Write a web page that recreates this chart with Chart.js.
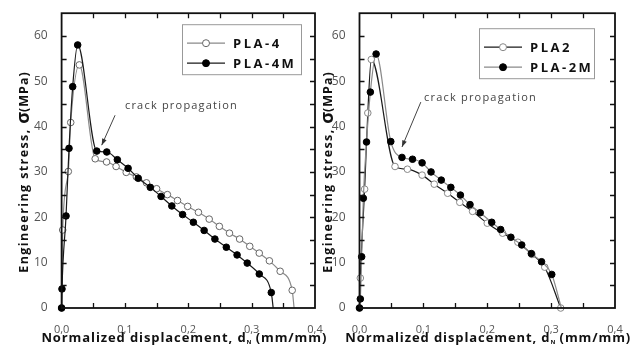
<!DOCTYPE html>
<html>
<head>
<meta charset="utf-8">
<script src="https://cdn.jsdelivr.net/npm/chart.js@4.4.0/dist/chart.umd.min.js"></script>
<style>
  html, body { margin: 0; padding: 0; background: #fff; }
  .wrap { position: relative; width: 636px; height: 347px; overflow: hidden; }
  .panel { position: absolute; top: 0; height: 347px; }
</style>
</head>
<body>
<div class="wrap">
  <div class="panel" style="left:0; width:330px"><canvas id="chart-pla4" width="330" height="347"></canvas></div>
  <div class="panel" style="left:310px; width:326px"><canvas id="chart-pla2" width="326" height="347"></canvas></div>
</div>
<script>
// left panel: PLA-4 (open) and PLA-4M (filled)
const pla4X = [0, 0.0017, 0.0106, 0.0144, 0.028, 0.053, 0.071, 0.086, 0.102, 0.118, 0.134, 0.150, 0.167, 0.183, 0.199, 0.216, 0.233, 0.249, 0.265, 0.281, 0.297, 0.312, 0.328, 0.345, 0.364, 0.367]
const pla4Y = [0, 17.2, 30.1, 40.9, 53.6, 32.9, 32.2, 31.2, 29.9, 28.9, 27.6, 26.3, 25.0, 23.7, 22.4, 21.1, 19.6, 18.0, 16.5, 15.2, 13.6, 12.1, 10.4, 8.1, 3.9, 0]
const pla4mX = [0, 0.0006, 0.007, 0.0117, 0.0175, 0.0254, 0.0555, 0.0713, 0.088, 0.105, 0.121, 0.140, 0.157, 0.174, 0.191, 0.208, 0.225, 0.242, 0.260, 0.277, 0.293, 0.312, 0.331, 0.334]
const pla4mY = [0, 4.2, 20.3, 35.2, 48.8, 58.0, 34.6, 34.4, 32.7, 30.8, 28.6, 26.6, 24.6, 22.5, 20.6, 18.9, 17.1, 15.2, 13.4, 11.7, 9.9, 7.5, 3.4, 0]

// right panel: PLA2 (open) and PLA-2M (filled)
const pla2X = [0, 0.0013, 0.008, 0.013, 0.0185, 0.0556, 0.075, 0.098, 0.117, 0.138, 0.157, 0.177, 0.200, 0.224, 0.248, 0.270, 0.290, 0.315]
const pla2Y = [0, 6.6, 26.2, 43.0, 54.8, 31.2, 30.6, 29.3, 27.3, 25.3, 23.3, 21.3, 18.7, 16.5, 14.5, 11.8, 9.0, 0]
const pla2mX = [0, 0.0013, 0.0034, 0.006, 0.011, 0.017, 0.026, 0.049, 0.0665, 0.083, 0.098, 0.112, 0.128, 0.143, 0.158, 0.173, 0.189, 0.207, 0.221, 0.237, 0.254, 0.269, 0.285, 0.301, 0.316]
const pla2mY = [0, 2.0, 11.3, 24.2, 36.6, 47.6, 56.0, 36.7, 33.2, 32.8, 32.0, 30.0, 28.2, 26.6, 24.9, 22.8, 21.0, 18.9, 17.3, 15.6, 13.9, 12.0, 10.2, 7.4, 0]

const xTickValues = [0, 0.1, 0.2, 0.3, 0.4]
const xTickLabels = ["0,0", "0,1", "0,2", "0,3", "0,4"]
const yTickValues = [0, 10, 20, 30, 40, 50, 60]
const yTickLabels = ["0", "10", "20", "30", "40", "50", "60"]

const FONT = "'Open Sans', 'Liberation Sans', sans-serif"
const pts = (xs, ys) => xs.map((x, i) => ({ x, y: ys[i] }))

// frame + inward ticks on all four sides
const framePlugin = {
  id: "frame",
  afterDatasetsDraw(chart) {
    const { ctx, chartArea: a, scales: { x, y } } = chart
    ctx.save()
    ctx.strokeStyle = "#111"
    ctx.lineWidth = 1.3
    ctx.beginPath()
    for (let i = 1; i < 8; i++) {
      const px = Math.round(x.getPixelForValue(i * 0.05)) + 0.5
      ctx.moveTo(px, a.bottom); ctx.lineTo(px, a.bottom - 5)
      ctx.moveTo(px, a.top); ctx.lineTo(px, a.top + 5)
    }
    for (let i = 1; i < 13; i++) {
      const py = Math.round(y.getPixelForValue(i * 5)) + 0.5
      ctx.moveTo(a.left, py); ctx.lineTo(a.left + 5, py)
      ctx.moveTo(a.right, py); ctx.lineTo(a.right - 5, py)
    }
    ctx.stroke()
    ctx.lineWidth = 1.8
    ctx.strokeRect(a.left, a.top, a.right - a.left, a.bottom - a.top)
    ctx.restore()
  }
}

// boxed legend inside the plot area
const legendPlugin = {
  id: "boxLegend",
  afterDraw(chart, args, o) {
    const { ctx, chartArea: a } = chart
    const bx = a.right - o.right - o.width
    const by = a.top + o.top
    ctx.save()
    ctx.fillStyle = "#fff"
    ctx.fillRect(bx, by, o.width, o.height)
    ctx.strokeStyle = "#999"
    ctx.lineWidth = 1
    ctx.strokeRect(bx + 0.5, by + 0.5, o.width, o.height)
    chart.data.datasets.forEach((ds, i) => {
      const ry = by + 19 + i * 20
      ctx.strokeStyle = ds.borderColor
      ctx.lineWidth = 1.2
      ctx.beginPath(); ctx.moveTo(bx + 5, ry); ctx.lineTo(bx + 43, ry); ctx.stroke()
      ctx.beginPath(); ctx.arc(bx + 24, ry, 3.5, 0, Math.PI * 2)
      ctx.fillStyle = ds.pointBackgroundColor; ctx.fill()
      ctx.strokeStyle = ds.pointBorderColor; ctx.lineWidth = 1; ctx.stroke()
      ctx.fillStyle = "#111"
      ctx.font = "bold 13px " + FONT
      ctx.letterSpacing = "2.5px"
      ctx.textBaseline = "middle"
      ctx.fillText(ds.label, bx + 51, ry + 1)
    })
    ctx.restore()
  }
}

// "crack propagation" note with arrow
const crackPlugin = {
  id: "crack",
  afterDraw(chart, args, o) {
    const { ctx, scales: { x, y } } = chart
    ctx.save()
    ctx.fillStyle = "#444"
    ctx.font = "11px " + FONT
    ctx.letterSpacing = "1.2px"
    ctx.textBaseline = "middle"
    ctx.fillText(o.text, x.getPixelForValue(o.at[0]), y.getPixelForValue(o.at[1]))
    const x1 = x.getPixelForValue(o.from[0]), y1 = y.getPixelForValue(o.from[1])
    const x2 = x.getPixelForValue(o.to[0]), y2 = y.getPixelForValue(o.to[1])
    ctx.strokeStyle = "#444"
    ctx.lineWidth = 1
    ctx.beginPath(); ctx.moveTo(x1, y1); ctx.lineTo(x2, y2); ctx.stroke()
    const ang = Math.atan2(y2 - y1, x2 - x1)
    ctx.beginPath()
    ctx.moveTo(x2, y2)
    ctx.lineTo(x2 - 7 * Math.cos(ang - 0.35), y2 - 7 * Math.sin(ang - 0.35))
    ctx.lineTo(x2 - 7 * Math.cos(ang + 0.35), y2 - 7 * Math.sin(ang + 0.35))
    ctx.closePath()
    ctx.fillStyle = "#333"; ctx.fill()
    ctx.restore()
  }
}

// axis titles drawn by hand (letter spacing, big sigma, small subscript)
function drawParts(ctx, parts) {
  let total = 0
  parts.forEach(p => { ctx.font = p.f; ctx.letterSpacing = p.ls || "0px"; p.w = ctx.measureText(p.t).width; total += p.w })
  let cx = -total / 2
  parts.forEach(p => {
    ctx.font = p.f; ctx.letterSpacing = p.ls || "0px"
    ctx.fillText(p.t, cx, p.dy || 0)
    cx += p.w
  })
}

const titlePlugin = {
  id: "axisTitles",
  afterDraw(chart, args, o) {
    const { ctx, chartArea: a } = chart
    ctx.save()
    ctx.fillStyle = "#111"
    ctx.textBaseline = "middle"
    ctx.translate(o.yx, o.ycy)
    ctx.rotate(-Math.PI / 2)
    drawParts(ctx, [
      { t: "Engineering stress, ", f: "bold 12.5px " + FONT, ls: "1.4px" },
      { t: "σ", f: "bold 18px " + FONT },
      { t: "(MPa)", f: "bold 12.5px " + FONT, ls: "1px" }
    ])
    ctx.setTransform(1, 0, 0, 1, 0, 0)
    ctx.translate((a.left + a.right) / 2 + o.xdx, 338)
    drawParts(ctx, [
      { t: "Normalized displacement, d", f: "bold 13px " + FONT, ls: "0.9px" },
      { t: "N", f: "bold 6px " + FONT, dy: 4, ls: "0px" },
      { t: " (mm/mm)", f: "bold 13px " + FONT, ls: "0.9px" }
    ])
    ctx.restore()
  }
}

function makePanel(id, sets, o) {
  return new Chart(document.getElementById(id), {
    type: "line",
    data: {
      datasets: sets.map(s => ({
        label: s.label,
        data: pts(s.x, s.y),
        borderColor: s.line,
        borderWidth: 1.2,
        pointBackgroundColor: s.fill,
        pointBorderColor: s.edge,
        pointBorderWidth: 1,
        pointRadius: c => (c.raw && c.raw.y === 0 && c.dataIndex > 0 && !s.endMarker) ? 0 : 3.3,
        cubicInterpolationMode: "monotone",
        order: s.order,
        clip: false
      }))
    },
    options: {
      responsive: false,
      animation: false,
      events: [],
      layout: { padding: { top: 13, right: o.padRight, bottom: 0, left: 0 } },
      plugins: {
        legend: { display: false },
        tooltip: { enabled: false },
        boxLegend: o.legend,
        crack: o.crack,
        axisTitles: o.titles
      },
      scales: {
        x: {
          type: "linear", min: 0, max: 0.4,
          afterBuildTicks: s => { s.ticks = xTickValues.map(v => ({ value: v })) },
          afterFit: s => { s.height = 39 },
          grid: { display: false },
          border: { display: false },
          ticks: { padding: 7, color: "#555", font: { family: FONT, size: 11 }, callback: (v, i) => xTickLabels[i] }
        },
        y: {
          type: "linear", min: 0, max: 65,
          afterBuildTicks: s => { s.ticks = yTickValues.map(v => ({ value: v })) },
          afterFit: s => { s.width = o.yWidth },
          grid: { display: false },
          border: { display: false },
          ticks: { padding: 6, color: "#555", font: { family: FONT, size: 12 }, callback: (v, i) => yTickLabels[i] }
        }
      }
    },
    plugins: [framePlugin, legendPlugin, crackPlugin, titlePlugin]
  })
}

makePanel("chart-pla4", [
  { label: "PLA-4", x: pla4X, y: pla4Y, line: "#8a8a8a", fill: "#fff", edge: "#666", order: 1 },
  { label: "PLA-4M", x: pla4mX, y: pla4mY, line: "#1a1a1a", fill: "#000", edge: "#000", order: 0 }
], {
  yWidth: 61.6, padRight: 15,
  legend: { right: 14, top: 11, width: 119, height: 50 },
  crack: { text: "crack propagation", at: [0.1, 44.5], from: [0.0844, 42.5], to: [0.0633, 35.9] },
  titles: { yx: 24, ycy: 172, xdx: -4 }
})

makePanel("chart-pla2", [
  { label: "PLA2", x: pla2X, y: pla2Y, line: "#1a1a1a", fill: "#fff", edge: "#888", order: 1, endMarker: true },
  { label: "PLA-2M", x: pla2mX, y: pla2mY, line: "#8a8a8a", fill: "#000", edge: "#000", order: 0 }
], {
  yWidth: 49.5, padRight: 21,
  legend: { right: 21, top: 15, width: 115, height: 50 },
  crack: { text: "crack propagation", at: [0.101, 46.4], from: [0.096, 45.4], to: [0.0665, 35.5] },
  titles: { yx: 18, ycy: 172, xdx: 1 }
})
</script>
</body>
</html>
